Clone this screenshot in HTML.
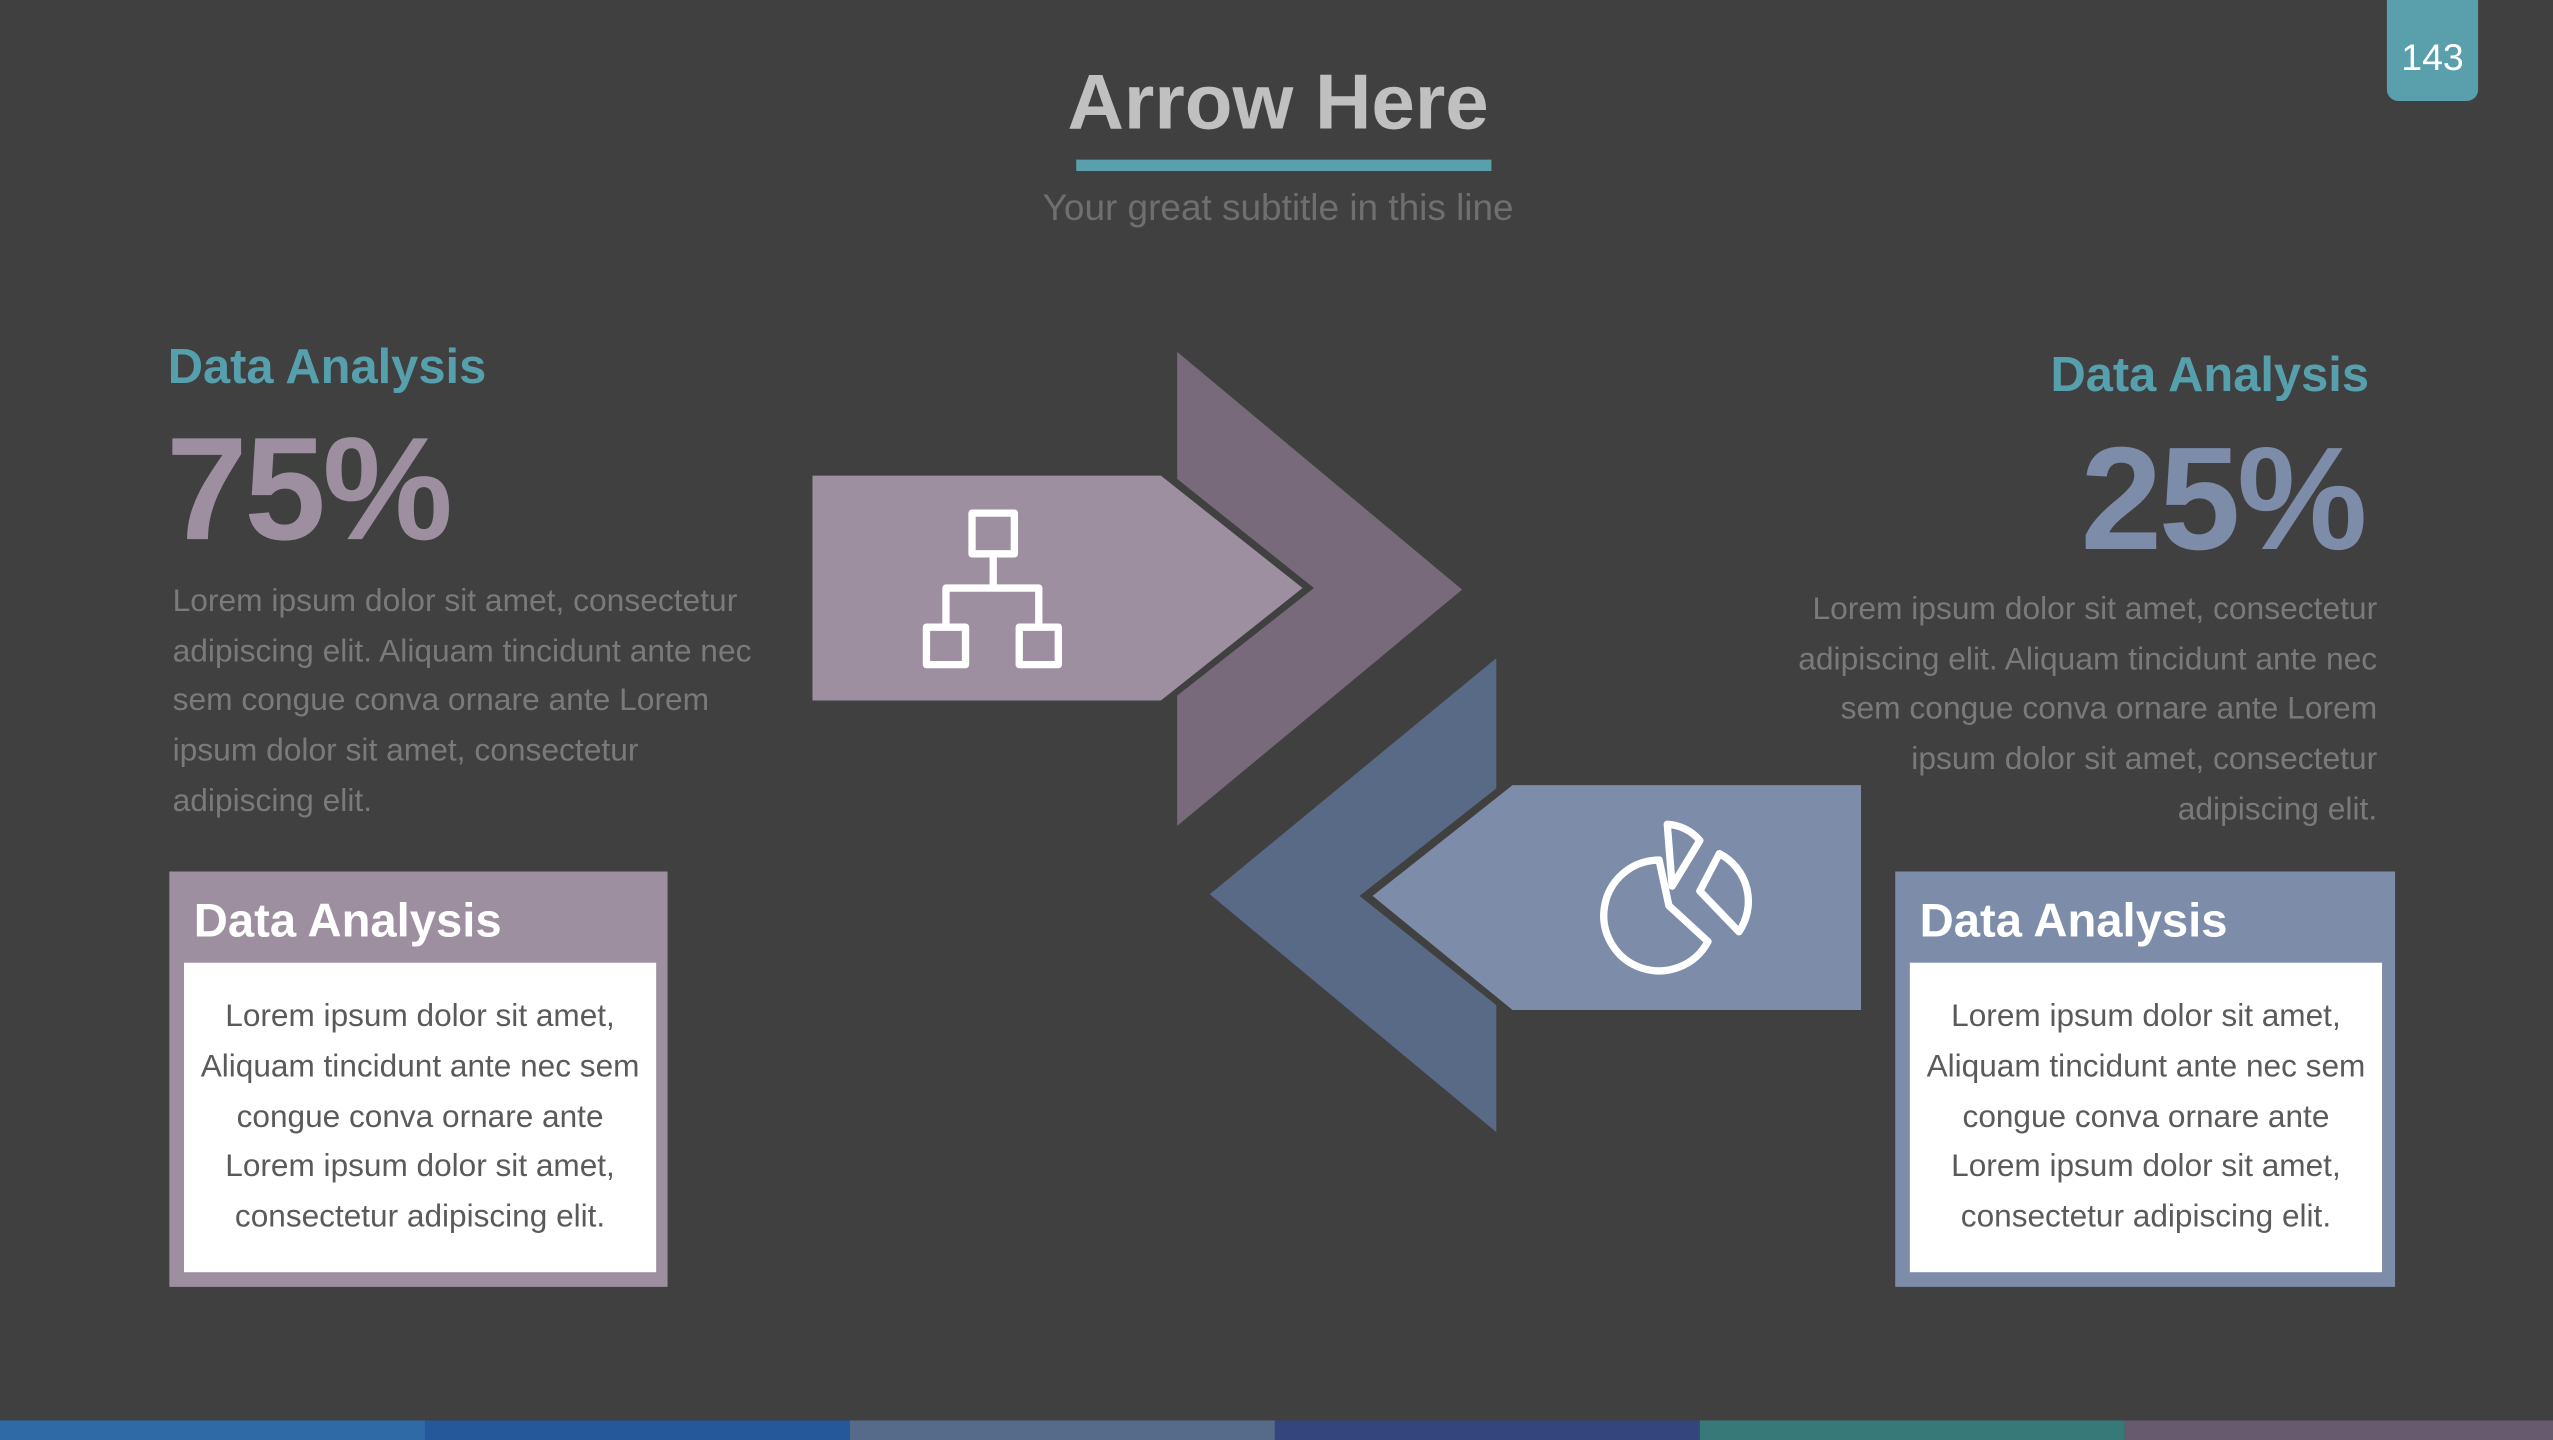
<!DOCTYPE html>
<html><head><meta charset="utf-8"><style>
html,body{margin:0;padding:0;background:#404040;overflow:hidden}
#s{position:absolute;left:0;top:0;width:1568px;height:884px;transform-origin:0 0;transform:scale(1.62819,1.62896);font-family:"Liberation Sans",sans-serif;background:#404040}
.a{position:absolute;white-space:nowrap}
.p{position:absolute;font-size:19.5px;line-height:30.7px;color:#7a7a7a}
.bx{position:absolute;width:290px;height:190px;background:#fff;text-align:center;font-size:19.4px;line-height:30.8px;color:#5a5a5a;padding-top:18px;box-sizing:border-box}
</style></head><body><div id="s">
<div class="a" style="left:1466px;top:0;width:56px;height:62px;background:#5aa0ac;border-radius:0 0 7px 7px;color:#fff;font-size:23px;text-align:center;line-height:70px">143</div>
<div class="a" style="left:585px;width:400px;text-align:center;top:36px;font-size:48px;font-weight:bold;color:#c0c0c0">Arrow Here</div>
<div class="a" style="left:661px;top:98px;width:255px;height:7px;background:#5aa0ac"></div>
<div class="a" style="left:535px;width:500px;text-align:center;top:114px;font-size:22.7px;color:#6f6f6f">Your great subtitle in this line</div>

<div class="a" style="left:103px;top:209px;font-size:30px;font-weight:bold;color:#56a0ae">Data Analysis</div>
<div class="a" style="left:102px;top:250px;font-size:90px;font-weight:bold;color:#9d8fa0;letter-spacing:-2px">75%</div>
<div class="p" style="left:106px;top:354px;width:380px">Lorem ipsum dolor sit amet, consectetur<br>adipiscing elit. Aliquam tincidunt ante nec<br>sem congue conva ornare ante Lorem<br>ipsum dolor sit amet, consectetur<br>adipiscing elit.</div>

<div class="a" style="right:113px;top:214px;font-size:30px;font-weight:bold;color:#56a0ae">Data Analysis</div>
<div class="a" style="right:116px;top:256px;font-size:90px;font-weight:bold;color:#7d8ca8;letter-spacing:-2px">25%</div>
<div class="p" style="right:108px;top:359px;width:400px;text-align:right">Lorem ipsum dolor sit amet, consectetur<br>adipiscing elit. Aliquam tincidunt ante nec<br>sem congue conva ornare ante Lorem<br>ipsum dolor sit amet, consectetur<br>adipiscing elit.</div>

<div class="a" style="left:104px;top:535px;width:306px;height:255px;background:#9d8fa0"></div>
<div class="a" style="left:119px;top:550px;font-size:29px;font-weight:bold;color:#fff">Data Analysis</div>
<div class="bx" style="left:113px;top:591px">Lorem ipsum dolor sit amet,<br>Aliquam tincidunt ante nec sem<br>congue conva ornare ante<br>Lorem ipsum dolor sit amet,<br>consectetur adipiscing elit.</div>

<div class="a" style="left:1164px;top:535px;width:307px;height:255px;background:#7d8ca8"></div>
<div class="a" style="left:1179px;top:550px;font-size:29px;font-weight:bold;color:#fff">Data Analysis</div>
<div class="bx" style="left:1173px;top:591px">Lorem ipsum dolor sit amet,<br>Aliquam tincidunt ante nec sem<br>congue conva ornare ante<br>Lorem ipsum dolor sit amet,<br>consectetur adipiscing elit.</div>

<svg class="a" style="left:0;top:0" width="1568" height="884">
<polygon points="723,216 898,362 723,507 723,427 807,361 723,294" fill="#786a7b"/>
<polygon points="499,292 713,292 800,361 713,430 499,430" fill="#9d8fa0"/>
<polygon points="919,404 743,549 919,695 919,617 835,550 919,484" fill="#586a86"/>
<polygon points="1143,482 929,482 843,550 929,620 1143,620" fill="#7d8ca8"/>
<g fill="none" stroke="#fff" stroke-width="4.5" stroke-linejoin="round">
<rect x="597" y="315" width="26" height="25"/>
<path d="M610,340 V359 M581,383 V361 H638 V383"/>
<rect x="569" y="385" width="24" height="23"/>
<rect x="626" y="385" width="24" height="23"/>
<path d="M1019,528 A34,34 0 1,0 1049,578 L1025,556 Z"/>
<path d="M1024,506 A28,28 0 0,1 1044,516 L1027,544 Z"/>
<path d="M1056,524 A33,33 0 0,1 1068,572 L1044,547 Z"/>
</g>
</svg>

<div class="a" style="left:0;top:872px;width:261px;height:12px;background:#2f6aa6"></div>
<div class="a" style="left:261px;top:872px;width:261px;height:12px;background:#25589a"></div>
<div class="a" style="left:522px;top:872px;width:261px;height:12px;background:#566a8a"></div>
<div class="a" style="left:783px;top:872px;width:261px;height:12px;background:#34457e"></div>
<div class="a" style="left:1044px;top:872px;width:261px;height:12px;background:#377878"></div>
<div class="a" style="left:1305px;top:872px;width:263px;height:12px;background:#675a6e"></div>
</div></body></html>
